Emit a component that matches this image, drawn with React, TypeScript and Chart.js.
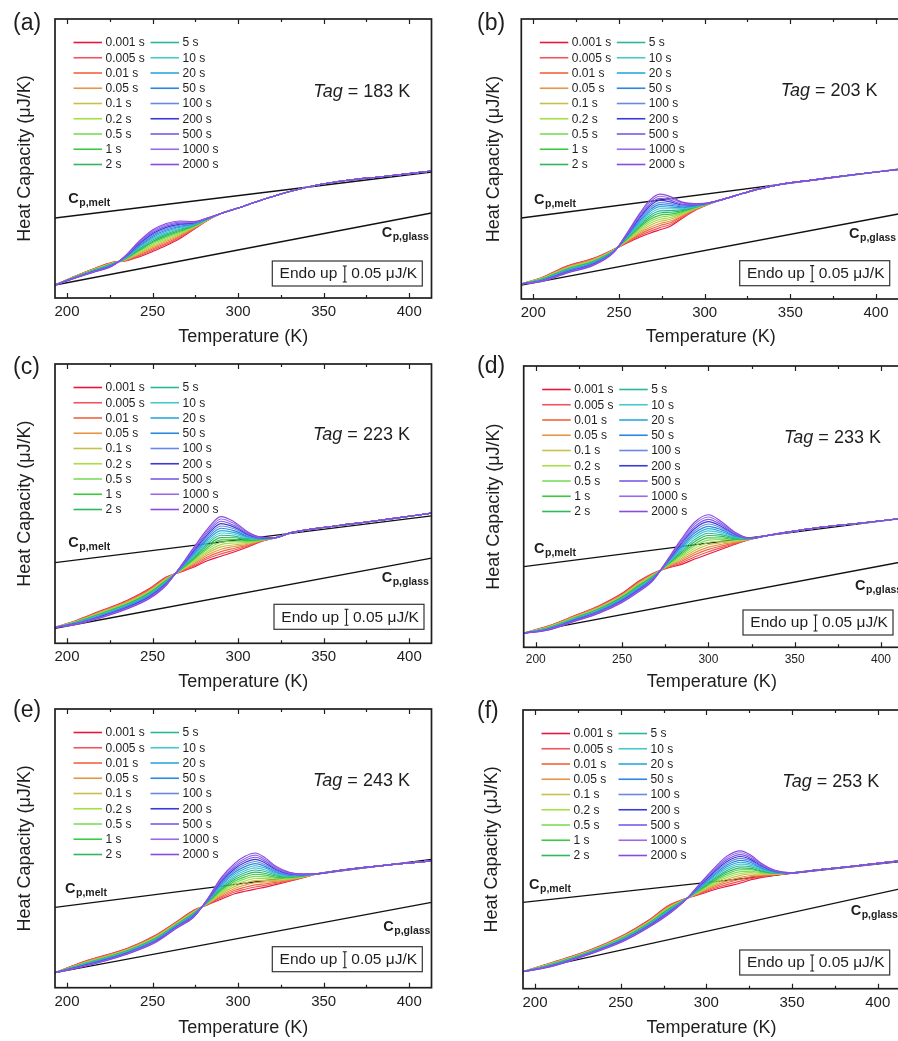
import React, { useEffect, useRef } from "react";
import { Chart, registerables } from "chart.js";

Chart.register(...registerables);

const FONT = "'Liberation Sans', Arial, Helvetica, sans-serif";
Chart.defaults.font.family = FONT;
const INK = "#1e1e1e";

// ---------- shared data ----------
const AGING_TIMES = [
  "0.001 s", "0.005 s", "0.01 s", "0.05 s", "0.1 s", "0.2 s", "0.5 s", "1 s", "2 s",
  "5 s", "10 s", "20 s", "50 s", "100 s", "200 s", "500 s", "1000 s", "2000 s",
];
const CURVE_COLORS = [
  "#e8173d", "#f0545c", "#f0643c", "#e89448", "#c8bf4a", "#a6de46", "#7edc5a", "#3ec83e", "#2eb85c",
  "#2ab89c", "#46c8cc", "#2aa8dc", "#2a88e0", "#6a88e8", "#3a3ad8", "#7a5ae8", "#9a6ae8", "#8a4ae0",
];
const X_TICKS = [200, 250, 300, 350, 400];
const X_MINOR_TICKS = [225, 275, 325, 375];
const LINE_T = [193, 413]; // temperature end points of the Cp,melt / Cp,glass lines
// y values: relative heat capacity, 16 units = 0.05 uJ/K (scale bar)
const SCALE_BAR = 16;
const SCALE_BAR_LABEL = "0.05 \u03bcJ/K";
const Y_MAX = 279;

// ---------- panel (a) Tag = 183 K ----------
const TAG_A = 183;
const T_A = [193, 205, 216, 226, 234, 242, 250, 258, 266, 274, 282, 290, 300, 312, 326, 345, 365, 385, 413];
const LOW_A = [13];
const FAN_A = [
  [22, 29.5, 35.5, 37, 41, 46.5, 52.5, 59.5, 68.5, 77.5],
  [21.9, 29.3, 35.3, 37.3, 41.9, 47.8, 53.8, 60.5, 69, 77.6],
  [21.8, 29.1, 35, 37.6, 42.8, 49, 55.1, 61.6, 69.4, 77.8],
  [21.6, 28.9, 34.8, 37.9, 43.7, 50.3, 56.4, 62.6, 69.9, 77.9],
  [21.5, 28.7, 34.6, 38.2, 44.6, 51.6, 57.7, 63.6, 70.4, 78.1],
  [21.4, 28.5, 34.3, 38.5, 45.6, 52.8, 59, 64.6, 70.9, 78.2],
  [21.3, 28.3, 34.1, 38.8, 46.5, 54.1, 60.3, 65.7, 71.3, 78.4],
  [21.2, 28.1, 33.9, 39.1, 47.4, 55.4, 61.6, 66.7, 71.8, 78.5],
  [21.1, 27.9, 33.6, 39.4, 48.3, 56.6, 62.9, 67.7, 72.3, 78.7],
  [20.9, 27.6, 33.4, 39.6, 49.2, 57.9, 64.1, 68.8, 72.7, 78.8],
  [20.8, 27.4, 33.2, 39.9, 50.1, 59.2, 65.4, 69.8, 73.2, 79],
  [20.7, 27.2, 32.9, 40.2, 51, 60.4, 66.7, 70.8, 73.7, 79.1],
  [20.6, 27, 32.7, 40.5, 51.9, 61.7, 68, 71.8, 74.1, 79.3],
  [20.5, 26.8, 32.4, 40.8, 52.9, 62.9, 69.3, 72.9, 74.6, 79.4],
  [20.4, 26.6, 32.2, 41.1, 53.8, 64.2, 70.6, 73.9, 75.1, 79.6],
  [20.2, 26.4, 32, 41.4, 54.7, 65.5, 71.9, 74.9, 75.5, 79.7],
  [20.1, 26.2, 31.7, 41.7, 55.6, 66.7, 73.2, 75.9, 76, 79.9],
  [20, 26, 31.5, 42, 56.5, 68, 74.5, 77, 76.5, 80],
];
const HIGH_A = [84.5, 90, 97, 104.5, 112.5, 118, 121.5, 127];
const MELT_A = [80, 126];
const GLASS_A = [13, 85];

// ---------- panel (b) Tag = 203 K ----------
const TAG_B = 203;
const T_B = [193, 205, 220, 235, 247, 255, 262, 268, 274, 280, 287, 294, 301, 308, 318, 330, 345, 365, 390, 413];
const LOW_B = [15];
const FAN_B = [
  [21.5, 33, 40.5, 49.5, 56, 61.5, 65.5, 69, 72.5, 80.5, 88, 93.5],
  [21.3, 32.6, 40.1, 49.3, 56.6, 62.9, 67.4, 71.1, 74.2, 81.4, 88.4, 93.6],
  [21, 32.2, 39.7, 49.1, 57.2, 64.3, 69.4, 73.2, 76, 82.4, 88.8, 93.7],
  [20.8, 31.8, 39.3, 49, 57.9, 65.6, 71.3, 75.3, 77.7, 83.3, 89.2, 93.9],
  [20.6, 31.4, 38.9, 48.8, 58.5, 67, 73.3, 77.4, 79.4, 84.3, 89.6, 94],
  [20.3, 30.9, 38.4, 48.6, 59.1, 68.4, 75.2, 79.4, 81.2, 85.2, 90.1, 94.1],
  [20.1, 30.5, 38, 48.4, 59.7, 69.8, 77.1, 81.5, 82.9, 86.1, 90.5, 94.2],
  [19.9, 30.1, 37.6, 48.3, 60.3, 71.2, 79.1, 83.6, 84.6, 87.1, 90.9, 94.3],
  [19.6, 29.7, 37.2, 48.1, 60.9, 72.6, 81, 85.7, 86.4, 88, 91.3, 94.4],
  [19.4, 29.3, 36.8, 47.9, 61.6, 73.9, 83, 87.8, 88.1, 89, 91.7, 94.6],
  [19.2, 28.9, 36.4, 47.7, 62.2, 75.3, 84.9, 89.9, 89.9, 89.9, 92.1, 94.7],
  [18.9, 28.5, 36, 47.6, 62.8, 76.7, 86.9, 92, 91.6, 90.9, 92.5, 94.8],
  [18.7, 28.1, 35.6, 47.4, 63.4, 78.1, 88.8, 94.1, 93.3, 91.8, 92.9, 94.9],
  [18.4, 27.6, 35.1, 47.2, 64, 79.5, 90.7, 96.1, 95.1, 92.7, 93.4, 95],
  [18.2, 27.2, 34.7, 47, 64.7, 80.8, 92.7, 98.2, 96.8, 93.7, 93.8, 95.2],
  [18, 26.8, 34.3, 46.9, 65.3, 82.2, 94.6, 100.3, 98.5, 94.6, 94.2, 95.3],
  [17.7, 26.4, 33.9, 46.7, 65.9, 83.6, 96.6, 102.4, 100.3, 95.6, 94.6, 95.4],
  [17.5, 26, 33.5, 46.5, 66.5, 85, 98.5, 104.5, 102, 96.5, 95, 95.5],
];
const HIGH_B = [98, 103, 109, 114.5, 119, 124.5, 129];
const MELT_B = [80.7, 129.5];
const GLASS_B = [13.8, 84.7];

// ---------- panel (c) Tag = 223 K ----------
const TAG_C = 223;
const T_C = [193, 205, 220, 235, 248, 258, 266, 274, 282, 290, 298, 306, 314, 322, 330, 345, 365, 390, 413];
const LOW_C = [16];
const FAN_C = [
  [22.5, 32.7, 42.7, 54.4, 66.2, 71, 76, 82.5, 87, 91.5, 96.5, 102],
  [22.3, 32.3, 42.2, 53.8, 65.7, 71.3, 77.1, 84.4, 89.3, 93.2, 97.4, 102.2],
  [22.1, 31.9, 41.7, 53.2, 65.2, 71.6, 78.3, 86.2, 91.6, 95, 98.2, 102.5],
  [21.8, 31.4, 41.2, 52.6, 64.8, 71.9, 79.4, 88.1, 94, 96.7, 99.1, 102.7],
  [21.6, 31, 40.7, 52, 64.3, 72.2, 80.6, 89.9, 96.3, 98.4, 99.9, 102.9],
  [21.4, 30.6, 40.2, 51.5, 63.8, 72.5, 81.7, 91.8, 98.6, 100.2, 100.8, 103.2],
  [21.2, 30.2, 39.7, 50.9, 63.3, 72.8, 82.9, 93.6, 100.9, 101.9, 101.6, 103.4],
  [21, 29.7, 39.2, 50.3, 62.8, 73.1, 84, 95.5, 103.3, 103.6, 102.5, 103.6],
  [20.8, 29.3, 38.7, 49.7, 62.3, 73.4, 85.2, 97.3, 105.6, 105.4, 103.3, 103.9],
  [20.5, 28.9, 38.2, 49.1, 61.9, 73.6, 86.3, 99.2, 107.9, 107.1, 104.2, 104.1],
  [20.3, 28.5, 37.7, 48.5, 61.4, 73.9, 87.5, 101, 110.2, 108.9, 105, 104.4],
  [20.1, 28, 37.2, 47.9, 60.9, 74.2, 88.6, 102.9, 112.6, 110.6, 105.9, 104.6],
  [19.9, 27.6, 36.7, 47.3, 60.4, 74.5, 89.8, 104.7, 114.9, 112.3, 106.7, 104.8],
  [19.7, 27.2, 36.2, 46.8, 59.9, 74.8, 90.9, 106.6, 117.2, 114.1, 107.6, 105.1],
  [19.4, 26.8, 35.7, 46.2, 59.5, 75.1, 92.1, 108.4, 119.5, 115.8, 108.4, 105.3],
  [19.2, 26.3, 35.2, 45.6, 59, 75.4, 93.2, 110.3, 121.9, 117.5, 109.3, 105.5],
  [19, 25.9, 34.7, 45, 58.5, 75.7, 94.4, 112.1, 124.2, 119.3, 110.1, 105.8],
  [18.8, 25.5, 34.2, 44.4, 58, 76, 95.5, 114, 126.5, 121, 111, 106],
];
const HIGH_C = [105.5, 110, 114.5, 119, 124.5, 130];
const MELT_C = [80.6, 127.3];
const GLASS_C = [15, 85];

// ---------- panel (d) Tag = 233 K ----------
const TAG_D = 233;
const T_D = [193, 207, 222, 237, 250, 260, 268, 276, 284, 292, 300, 308, 316, 324, 333, 345, 365, 390, 413];
const LOW_D = [14];
const FAN_D = [
  [21, 31, 41.5, 53.5, 66, 73.5, 78.5, 82, 87.5, 92.5, 97.5, 102.5, 107],
  [20.8, 30.7, 41.1, 53, 65.4, 73.1, 78.9, 83.4, 89.6, 94.8, 99.1, 103.1, 107.1],
  [20.5, 30.4, 40.6, 52.4, 64.8, 72.7, 79.4, 84.9, 91.8, 97.1, 100.6, 103.8, 107.2],
  [20.3, 30, 40.2, 51.9, 64.1, 72.3, 79.8, 86.3, 93.9, 99.4, 102.2, 104.4, 107.2],
  [20.1, 29.7, 39.7, 51.4, 63.5, 71.9, 80.3, 87.8, 96.1, 101.7, 103.7, 105.1, 107.3],
  [19.8, 29.4, 39.3, 50.9, 62.9, 71.4, 80.7, 89.2, 98.2, 104, 105.3, 105.7, 107.4],
  [19.6, 29.1, 38.9, 50.3, 62.3, 71, 81.1, 90.6, 100.4, 106.3, 106.9, 106.4, 107.5],
  [19.4, 28.7, 38.4, 49.8, 61.7, 70.6, 81.6, 92.1, 102.5, 108.6, 108.4, 107, 107.5],
  [19.1, 28.4, 38, 49.3, 61.1, 70.2, 82, 93.5, 104.7, 110.9, 110, 107.7, 107.6],
  [18.9, 28.1, 37.5, 48.7, 60.4, 69.8, 82.5, 95, 106.8, 113.1, 111.5, 108.3, 107.7],
  [18.6, 27.8, 37.1, 48.2, 59.8, 69.4, 82.9, 96.4, 109, 115.4, 113.1, 109, 107.8],
  [18.4, 27.4, 36.7, 47.7, 59.2, 69, 83.4, 97.9, 111.1, 117.7, 114.6, 109.6, 107.8],
  [18.2, 27.1, 36.2, 47.1, 58.6, 68.6, 83.8, 99.3, 113.3, 120, 116.2, 110.3, 107.9],
  [17.9, 26.8, 35.8, 46.6, 58, 68.1, 84.2, 100.7, 115.4, 122.3, 117.8, 110.9, 108],
  [17.7, 26.5, 35.3, 46.1, 57.3, 67.7, 84.7, 102.2, 117.6, 124.6, 119.3, 111.6, 108.1],
  [17.5, 26.1, 34.9, 45.6, 56.7, 67.3, 85.1, 103.6, 119.7, 126.9, 120.9, 112.2, 108.1],
  [17.2, 25.8, 34.4, 45, 56.1, 66.9, 85.6, 105.1, 121.9, 129.2, 122.4, 112.9, 108.2],
  [17, 25.5, 34, 44.5, 55.5, 66.5, 86, 106.5, 124, 131.5, 124, 113.5, 108.3],
];
const HIGH_D = [110.5, 114, 119, 123.5, 128];
const MELT_D = [80, 128];
const GLASS_D = [14, 85];

// ---------- panel (e) Tag = 243 K ----------
const TAG_E = 243;
const T_E = [193, 210, 235, 252, 264, 274, 282, 290, 298, 304, 310, 316, 322, 330, 338, 346, 360, 380, 413];
const LOW_E = [15];
const FAN_E = [
  [26.2, 39.2, 52.8, 66, 77.5, 82.8, 88.5, 94, 96.5, 98.7, 100.7, 103.2, 106.6, 110.1],
  [25.9, 38.9, 52.4, 65.6, 77.1, 83.1, 89.8, 95.8, 98.6, 100.8, 102.4, 104.3, 107.1, 110.3],
  [25.6, 38.5, 51.9, 65.2, 76.7, 83.5, 91, 97.6, 100.6, 102.9, 104.1, 105.4, 107.6, 110.5],
  [25.3, 38.2, 51.5, 64.9, 76.3, 83.8, 92.3, 99.4, 102.7, 105.1, 105.8, 106.4, 108.2, 110.8],
  [25, 37.9, 51.1, 64.5, 75.9, 84.1, 93.6, 101.2, 104.7, 107.2, 107.5, 107.5, 108.7, 111],
  [24.7, 37.5, 50.7, 64.1, 75.4, 84.5, 94.8, 103, 106.8, 109.3, 109.2, 108.6, 109.2, 111.2],
  [24.4, 37.2, 50.2, 63.7, 75, 84.8, 96.1, 104.8, 108.9, 111.4, 110.9, 109.7, 109.7, 111.4],
  [24.1, 36.9, 49.8, 63.4, 74.6, 85.1, 97.4, 106.6, 110.9, 113.6, 112.6, 110.7, 110.3, 111.7],
  [23.8, 36.5, 49.4, 63, 74.2, 85.5, 98.6, 108.4, 113, 115.7, 114.3, 111.8, 110.8, 111.9],
  [23.6, 36.2, 48.9, 62.6, 73.8, 85.8, 99.9, 110.1, 115, 117.8, 116.1, 112.9, 111.3, 112.1],
  [23.3, 35.9, 48.5, 62.2, 73.4, 86.2, 101.2, 111.9, 117.1, 119.9, 117.8, 114, 111.8, 112.3],
  [23, 35.5, 48.1, 61.9, 73, 86.5, 102.4, 113.7, 119.1, 122.1, 119.5, 115, 112.4, 112.6],
  [22.7, 35.2, 47.7, 61.5, 72.6, 86.8, 103.7, 115.5, 121.2, 124.2, 121.2, 116.1, 112.9, 112.8],
  [22.4, 34.8, 47.2, 61.1, 72.1, 87.2, 104.9, 117.3, 123.3, 126.3, 122.9, 117.2, 113.4, 113],
  [22.1, 34.5, 46.8, 60.7, 71.7, 87.5, 106.2, 119.1, 125.3, 128.4, 124.6, 118.3, 113.9, 113.2],
  [21.8, 34.2, 46.4, 60.4, 71.3, 87.8, 107.5, 120.9, 127.4, 130.6, 126.3, 119.3, 114.5, 113.5],
  [21.5, 33.8, 45.9, 60, 70.9, 88.2, 108.7, 122.7, 129.4, 132.7, 128, 120.4, 115, 113.7],
  [21.2, 33.5, 45.5, 59.6, 70.5, 88.5, 110, 124.5, 131.5, 134.8, 129.7, 121.5, 115.5, 113.9],
];
const HIGH_E = [114, 117.5, 121.5, 127];
const MELT_E = [80.4, 128.4];
const GLASS_E = [15, 85.4];

// ---------- panel (f) Tag = 253 K ----------
const TAG_F = 253;
const T_F = [193, 210, 232, 252, 266, 278, 288, 296, 304, 312, 320, 326, 332, 340, 350, 365, 385, 413];
const LOW_F = [17];
const FAN_F = [
  [26.3, 38.6, 54, 68.2, 83.3, 90.3, 94.3, 98.8, 102.4, 105.8, 109, 111.2, 113.5],
  [26.1, 38.4, 53.6, 67.8, 82.8, 90.2, 94.9, 100, 104.2, 107.7, 110.4, 112, 113.8],
  [25.8, 38.1, 53.3, 67.4, 82.3, 90.1, 95.5, 101.3, 106, 109.6, 111.9, 112.9, 114.1],
  [25.6, 37.9, 52.9, 66.9, 81.7, 90.1, 96.1, 102.5, 107.7, 111.5, 113.3, 113.7, 114.4],
  [25.4, 37.7, 52.5, 66.5, 81.2, 90, 96.7, 103.7, 109.5, 113.4, 114.8, 114.6, 114.7],
  [25.1, 37.4, 52.2, 66.1, 80.7, 89.9, 97.4, 105, 111.3, 115.3, 116.2, 115.4, 115],
  [24.9, 37.2, 51.8, 65.7, 80.2, 89.8, 98, 106.2, 113.1, 117.2, 117.6, 116.2, 115.3],
  [24.7, 37, 51.4, 65.2, 79.7, 89.8, 98.6, 107.4, 114.9, 119.1, 119.1, 117.1, 115.6],
  [24.4, 36.7, 51.1, 64.8, 79.2, 89.7, 99.2, 108.6, 116.7, 121, 120.5, 117.9, 115.9],
  [24.2, 36.5, 50.7, 64.4, 78.6, 89.6, 99.8, 109.9, 118.4, 122.8, 122, 118.8, 116.1],
  [23.9, 36.2, 50.4, 64, 78.1, 89.5, 100.4, 111.1, 120.2, 124.7, 123.4, 119.6, 116.4],
  [23.7, 36, 50, 63.5, 77.6, 89.5, 101, 112.3, 122, 126.6, 124.9, 120.5, 116.7],
  [23.5, 35.8, 49.6, 63.1, 77.1, 89.4, 101.6, 113.5, 123.8, 128.5, 126.3, 121.3, 117],
  [23.2, 35.5, 49.3, 62.7, 76.6, 89.3, 102.3, 114.8, 125.6, 130.4, 127.7, 122.1, 117.3],
  [23, 35.3, 48.9, 62.3, 76.1, 89.2, 102.9, 116, 127.3, 132.3, 129.2, 123, 117.6],
  [22.8, 35.1, 48.5, 61.8, 75.5, 89.2, 103.5, 117.2, 129.1, 134.2, 130.6, 123.8, 117.9],
  [22.5, 34.8, 48.2, 61.4, 75, 89.1, 104.1, 118.5, 130.9, 136.1, 132.1, 124.7, 118.2],
  [22.3, 34.6, 47.8, 61, 74.5, 89, 104.7, 119.7, 132.7, 138, 133.5, 125.5, 118.5],
];
const HIGH_F = [116, 119, 122.5, 128];
const MELT_F = [86.4, 127.2];
const GLASS_F = [17, 100];

// ---------- layout (page pixel coordinates) ----------
type PanelSpec = {
  letter: string; tag: number; T: number[]; low: number[]; fan: number[][]; high: number[];
  melt: number[]; glass: number[];
  canvas: [number, number, number, number]; plot: [number, number, number, number]; xMax: number;
  tickSize: number; xTitleDy: number; yTitleX: number; letterPos: [number, number];
  tagPos: [number, number]; box: [number, number]; meltLbl: [number, number]; glassLbl: [number, number];
};

const PANELS: PanelSpec[] = [
  { letter: "(a)", tag: TAG_A, T: T_A, low: LOW_A, fan: FAN_A, high: HIGH_A, melt: MELT_A, glass: GLASS_A,
    canvas: [0, 0, 449, 355], plot: [55, 19, 431.5, 298], xMax: 413, tickSize: 15, xTitleDy: 39, yTitleX: 25,
    letterPos: [13, 24], tagPos: [313.3, 96.7], box: [422.3, 286], meltLbl: [68.3, 203.3], glassLbl: [381.7, 237.3] },
  { letter: "(b)", tag: TAG_B, T: T_B, low: LOW_B, fan: FAN_B, high: HIGH_B, melt: MELT_B, glass: GLASS_B,
    canvas: [449, 0, 452, 355], plot: [521.3, 19, 900, 299], xMax: 414, tickSize: 15, xTitleDy: 38.5, yTitleX: 494,
    letterPos: [477, 24], tagPos: [780.7, 95.7], box: [889.7, 285.7], meltLbl: [534, 204], glassLbl: [849, 238.3] },
  { letter: "(c)", tag: TAG_C, T: T_C, low: LOW_C, fan: FAN_C, high: HIGH_C, melt: MELT_C, glass: GLASS_C,
    canvas: [0, 345, 449, 355], plot: [55, 364, 431.5, 643.3], xMax: 413, tickSize: 15, xTitleDy: 38.5, yTitleX: 25,
    letterPos: [13, 368], tagPos: [313, 440], box: [424, 629.3], meltLbl: [68.3, 547.3], glassLbl: [381.7, 582.3] },
  { letter: "(d)", tag: TAG_D, T: T_D, low: LOW_D, fan: FAN_D, high: HIGH_D, melt: MELT_D, glass: GLASS_D,
    canvas: [449, 345, 452, 355], plot: [523.7, 366, 900, 647.3], xMax: 411, tickSize: 12, xTitleDy: 35, yTitleX: 494,
    letterPos: [477, 366.5], tagPos: [784, 443.3], box: [893, 635], meltLbl: [534, 553.3], glassLbl: [855, 590] },
  { letter: "(e)", tag: TAG_E, T: T_E, low: LOW_E, fan: FAN_E, high: HIGH_E, melt: MELT_E, glass: GLASS_E,
    canvas: [0, 690, 449, 351], plot: [55, 709, 431.5, 987.7], xMax: 413, tickSize: 15, xTitleDy: 40, yTitleX: 25,
    letterPos: [13, 711], tagPos: [313, 785.7], box: [422.3, 971.7], meltLbl: [65, 892.7], glassLbl: [383.3, 930.7] },
  { letter: "(f)", tag: TAG_F, T: T_F, low: LOW_F, fan: FAN_F, high: HIGH_F, melt: MELT_F, glass: GLASS_F,
    canvas: [449, 690, 452, 351], plot: [523, 710, 900, 988.7], xMax: 413, tickSize: 15, xTitleDy: 39.5, yTitleX: 492.3,
    letterPos: [477, 712], tagPos: [782.3, 786.7], box: [889.7, 975], meltLbl: [529, 889.3], glassLbl: [850.7, 915] },
];

const X_AXIS_H = 30;

function drawCp(ctx: CanvasRenderingContext2D, x: number, y: number, sub: string) {
  ctx.textAlign = "left";
  ctx.textBaseline = "alphabetic";
  ctx.font = `bold 14.5px ${FONT}`;
  ctx.fillText("C", x, y);
  const w = ctx.measureText("C").width;
  ctx.font = `bold 10.5px ${FONT}`;
  ctx.fillText(sub, x + w + 0.5, y + 3);
}

function makeDecor(p: PanelSpec) {
  return {
    id: "decor",
    afterDraw(chart: any) {
      const ctx: CanvasRenderingContext2D = chart.ctx;
      const { left, right, top, bottom } = chart.chartArea;
      const xs = chart.scales.x;
      const ys = chart.scales.y;
      const ox = p.canvas[0];
      const oy = p.canvas[1];
      ctx.save();
      // frame
      ctx.strokeStyle = INK;
      ctx.lineWidth = 1.7;
      ctx.strokeRect(left, top, right - left, bottom - top);
      // inward ticks on bottom and top
      ctx.lineWidth = 1.2;
      ctx.beginPath();
      X_TICKS.forEach((v) => {
        const x = Math.round(xs.getPixelForValue(v)) + 0.5;
        ctx.moveTo(x, bottom); ctx.lineTo(x, bottom - 5);
        ctx.moveTo(x, top); ctx.lineTo(x, top + 5);
      });
      X_MINOR_TICKS.forEach((v) => {
        const x = Math.round(xs.getPixelForValue(v)) + 0.5;
        ctx.moveTo(x, bottom); ctx.lineTo(x, bottom - 3);
        ctx.moveTo(x, top); ctx.lineTo(x, top + 3);
      });
      ctx.stroke();

      ctx.fillStyle = INK;
      // panel letter
      ctx.font = `23px ${FONT}`;
      ctx.textAlign = "left";
      ctx.textBaseline = "middle";
      ctx.fillText(p.letter, p.letterPos[0] - ox, p.letterPos[1] - oy);

      // axis titles
      ctx.font = `18px ${FONT}`;
      ctx.textAlign = "center";
      ctx.fillText("Temperature (K)", (left + right) / 2, bottom + p.xTitleDy);
      ctx.save();
      ctx.translate(p.yTitleX - ox, (top + bottom) / 2);
      ctx.rotate(-Math.PI / 2);
      ctx.fillText("Heat Capacity (\u03bcJ/K)", 0, 0);
      ctx.restore();

      // legend (two columns of nine)
      ctx.font = `12px ${FONT}`;
      ctx.textAlign = "left";
      ctx.textBaseline = "middle";
      AGING_TIMES.forEach((lab, i) => {
        const col = Math.floor(i / 9);
        const row = i % 9;
        const y = top + 23.5 + row * 15.25;
        const x0 = left + (col ? 95.5 : 18.5);
        const x1 = x0 + 28.5;
        ctx.strokeStyle = CURVE_COLORS[i];
        ctx.lineWidth = 1.6;
        ctx.beginPath();
        ctx.moveTo(x0, y);
        ctx.lineTo(x1, y);
        ctx.stroke();
        ctx.fillStyle = INK;
        ctx.fillText(lab, x1 + 3.5, y + 0.5);
      });

      // Tag annotation
      ctx.textBaseline = "alphabetic";
      ctx.font = `italic 18px ${FONT}`;
      const tx = p.tagPos[0] - ox;
      const ty = p.tagPos[1] - oy;
      ctx.fillText("Tag", tx, ty);
      const wT = ctx.measureText("Tag").width;
      ctx.font = `18px ${FONT}`;
      ctx.fillText(` = ${p.tag} K`, tx + wT, ty);

      // Cp labels
      drawCp(ctx, p.meltLbl[0] - ox, p.meltLbl[1] - oy, "p,melt");
      drawCp(ctx, p.glassLbl[0] - ox, p.glassLbl[1] - oy, "p,glass");

      // Endo up box with scale bar
      const bw = 150, bh = 25;
      const bx = p.box[0] - ox - bw;
      const by = p.box[1] - oy - bh;
      ctx.strokeStyle = "#333";
      ctx.lineWidth = 1.2;
      ctx.strokeRect(bx, by, bw, bh);
      ctx.font = `15.5px ${FONT}`;
      ctx.textBaseline = "middle";
      ctx.textAlign = "left";
      const cy = by + bh / 2 + 0.5;
      ctx.fillText("Endo up", bx + 7.3, cy);
      ctx.fillText(SCALE_BAR_LABEL, bx + 79, cy);
      const barLen = ys.getPixelForValue(0) - ys.getPixelForValue(SCALE_BAR);
      const sx = bx + 72.5;
      ctx.strokeStyle = INK;
      ctx.lineWidth = 1.1;
      ctx.beginPath();
      ctx.moveTo(sx, cy - barLen / 2); ctx.lineTo(sx, cy + barLen / 2);
      ctx.moveTo(sx - 2, cy - barLen / 2); ctx.lineTo(sx + 2, cy - barLen / 2);
      ctx.moveTo(sx - 2, cy + barLen / 2); ctx.lineTo(sx + 2, cy + barLen / 2);
      ctx.stroke();
      ctx.restore();
    },
  };
}

function Panel({ p }: { p: PanelSpec }) {
  const ref = useRef<HTMLCanvasElement>(null);
  useEffect(() => {
    const [cx, cy, cw, ch] = p.canvas;
    const [L, T, R, B] = p.plot;
    const datasets: any[] = p.fan.map((row, i) => {
      const ysArr = [...p.low, ...row, ...p.high];
      return {
        label: AGING_TIMES[i],
        data: p.T.map((t, k) => ({ x: t, y: ysArr[k] })),
        borderColor: CURVE_COLORS[i],
        borderWidth: 1.15,
        pointRadius: 0,
        cubicInterpolationMode: "monotone",
        fill: false,
        order: 17 - i,
      };
    });
    datasets.push({
      label: "Cp,melt",
      data: LINE_T.map((t, k) => ({ x: t, y: p.melt[k] })),
      borderColor: "#111", borderWidth: 1.3, pointRadius: 0, fill: false, order: 100,
    });
    datasets.push({
      label: "Cp,glass",
      data: LINE_T.map((t, k) => ({ x: t, y: p.glass[k] })),
      borderColor: "#111", borderWidth: 1.3, pointRadius: 0, fill: false, order: 101,
    });
    const chart = new Chart(ref.current as HTMLCanvasElement, {
      type: "line",
      data: { datasets },
      options: {
        responsive: false,
        animation: false,
        events: [],
        layout: {
          padding: { left: L - cx, top: T - cy, right: cx + cw - R, bottom: cy + ch - B - X_AXIS_H },
        },
        plugins: { legend: { display: false }, tooltip: { enabled: false } },
        scales: {
          x: {
            type: "linear",
            min: 193,
            max: p.xMax,
            grid: { display: false, drawTicks: false },
            border: { display: false },
            ticks: {
              color: INK,
              font: { size: p.tickSize, family: FONT },
              padding: 5,
              maxRotation: 0,
              autoSkip: false,
            },
            afterBuildTicks: (s: any) => {
              s.ticks = X_TICKS.map((v) => ({ value: v }));
            },
            afterFit: (s: any) => {
              s.height = X_AXIS_H;
              s.paddingLeft = 0;
              s.paddingRight = 0;
            },
          },
          y: { type: "linear", display: false, min: 0, max: Y_MAX },
        },
      } as any,
      plugins: [makeDecor(p)],
    });
    return () => chart.destroy();
  }, []);
  const [cx, cy, cw, ch] = p.canvas;
  return (
    <canvas
      ref={ref}
      width={cw}
      height={ch}
      style={{ position: "absolute", left: cx, top: cy, width: cw, height: ch }}
    />
  );
}

export default function App() {
  useEffect(() => {
    document.body.style.margin = "0";
    document.body.style.overflow = "hidden";
  }, []);
  return (
    <div
      style={{
        position: "absolute", left: 0, top: 0, width: 898, height: 1041,
        overflow: "hidden", background: "#ffffff",
      }}
    >
      {PANELS.map((p) => (
        <Panel key={p.letter} p={p} />
      ))}
    </div>
  );
}
